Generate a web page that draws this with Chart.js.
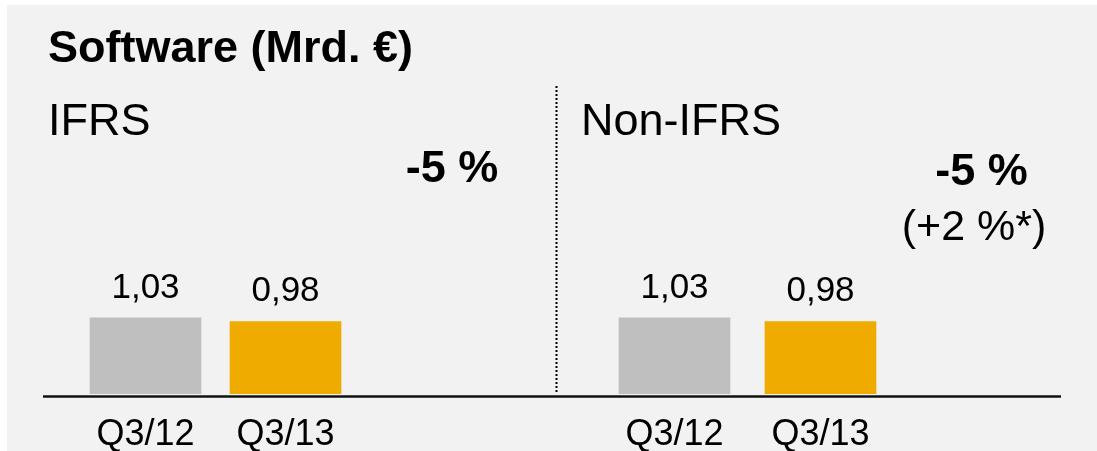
<!DOCTYPE html>
<html>
<head>
<meta charset="utf-8">
<script src="https://cdn.jsdelivr.net/npm/chart.js@4.4.1/dist/chart.umd.min.js"></script>
<style>
    html, body { margin: 0; padding: 0; background: #fff; }
    #page { position: relative; width: 1097px; height: 451px; overflow: hidden; }
    #panel { position: absolute; left: 7px; top: 5px; right: 0; bottom: 0; background: #f2f2f2; }
    #page canvas { position: absolute; left: 0; top: 0; }
</style>
</head>
<body>
<div id="page">
    <div id="panel"></div>
    <canvas id="ifrsChart" width="1097" height="480"></canvas>
    <canvas id="nonIfrsChart" width="1097" height="480"></canvas>
</div>
<script>
// Software revenue, Mrd. €
const periods = ['Q3/12', 'Q3/13'];
const ifrsSoftware = [1.03, 0.98];
const nonIfrsSoftware = [1.03, 0.98];
const ifrsChange = '-5 %';
const nonIfrsChange = '-5 %';
const nonIfrsChangeCC = '(+2 %*)';

const FONT = "'Liberation Sans', Arial, sans-serif";
const BAR_COLORS = ['#bfbfbf', '#f0ab00'];

Chart.defaults.font.family = FONT;
Chart.defaults.color = '#000';

// value labels above bars, German decimal comma
const valueLabels = {
    id: 'valueLabels',
    afterDatasetsDraw(chart) {
        const ctx = chart.ctx;
        const ds = chart.data.datasets[0];
        ctx.save();
        ctx.font = '35px ' + FONT;
        ctx.fillStyle = '#000';
        ctx.textAlign = 'center';
        ctx.textBaseline = 'alphabetic';
        chart.getDatasetMeta(0).data.forEach((bar, i) => {
            ctx.fillText(ds.data[i].toFixed(2).replace('.', ','), bar.x, bar.y - 20);
        });
        ctx.restore();
    }
};

// headings and change annotations
const panelText = {
    id: 'panelText',
    afterDraw(chart, args, opts) {
        const ctx = chart.ctx;
        ctx.save();
        ctx.fillStyle = '#000';
        ctx.textBaseline = 'alphabetic';
        (opts.items || []).forEach(t => {
            ctx.font = t.font;
            ctx.textAlign = t.align || 'left';
            ctx.fillText(t.text, t.x, t.y);
        });
        ctx.restore();
    }
};

// dotted divider + common baseline (drawn once, by the right chart)
const frameLines = {
    id: 'frameLines',
    afterDraw(chart, args, opts) {
        if (!opts.draw) return;
        const ctx = chart.ctx;
        const zeroY = chart.scales.y.getPixelForValue(0);
        ctx.save();
        ctx.strokeStyle = '#000';
        ctx.lineWidth = 2;
        ctx.setLineDash([2, 2]);
        ctx.beginPath();
        ctx.moveTo(556.5, 86);
        ctx.lineTo(556.5, zeroY);
        ctx.stroke();
        ctx.setLineDash([]);
        ctx.strokeStyle = '#111';
        ctx.lineWidth = 2.5;
        ctx.beginPath();
        ctx.moveTo(43, zeroY + 2.5);
        ctx.lineTo(1061, zeroY + 2.5);
        ctx.stroke();
        ctx.restore();
    }
};

function makeChart(id, values, padLeft, padRight, textItems, drawFrame) {
    const ctx = document.getElementById(id);
    if (!ctx) return;
    new Chart(ctx, {
        type: 'bar',
        data: {
            labels: periods,
            datasets: [{
                data: values,
                backgroundColor: BAR_COLORS,
                borderWidth: 0,
                barThickness: 111,
            }]
        },
        options: {
            responsive: false,
            animation: false,
            events: [],
            layout: { padding: { left: padLeft, right: padRight, top: 246, bottom: 3 } },
            plugins: {
                legend: { display: false },
                tooltip: { enabled: false },
                panelText: { items: textItems },
                frameLines: { draw: drawFrame }
            },
            scales: {
                x: {
                    grid: { display: false, drawTicks: false },
                    border: { display: false },
                    ticks: {
                        padding: 23.5,
                        color: '#000',
                        font: { family: FONT, size: 36, lineHeight: 1 },
                        maxRotation: 0
                    }
                },
                y: {
                    display: false,
                    min: 0,
                    max: 2
                }
            }
        },
        plugins: [valueLabels, panelText, frameLines]
    });
}

makeChart('ifrsChart', ifrsSoftware, 75.5, 741.5, [
    { text: 'Software (Mrd. €)', x: 48, y: 62, font: 'bold 45px ' + FONT },
    { text: 'IFRS', x: 48, y: 135, font: '45px ' + FONT },
    { text: ifrsChange, x: 452, y: 182, font: 'bold 45px ' + FONT, align: 'center' }
], false);

makeChart('nonIfrsChart', nonIfrsSoftware, 601.5, 203.5, [
    { text: 'Non-IFRS', x: 581, y: 135, font: '45px ' + FONT },
    { text: nonIfrsChange, x: 981.5, y: 185, font: 'bold 45px ' + FONT, align: 'center' },
    { text: nonIfrsChangeCC, x: 974, y: 240, font: '43px ' + FONT, align: 'center' }
], true);
</script>
</body>
</html>
